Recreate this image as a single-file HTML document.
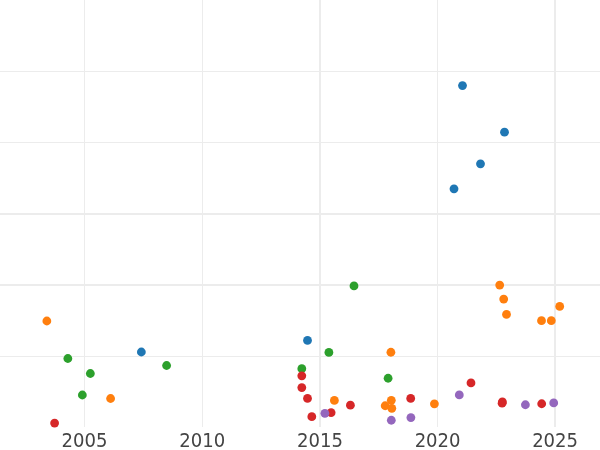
<!DOCTYPE html>
<html><head><meta charset="utf-8"><title>chart</title>
<style>
html,body{margin:0;padding:0;background:#fff;}
body{width:600px;height:450px;overflow:hidden;}
svg{display:block;}
.t{font-family:"DejaVu Sans","Liberation Sans",sans-serif;font-size:18.06px;fill:#444;text-anchor:middle;}
.g{fill:#ececec;shape-rendering:crispEdges;}
</style></head><body>
<svg width="600" height="450" viewBox="0 0 600 450">
<rect width="600" height="450" fill="#fff"/>
<rect class="g" x="84" y="0" width="1" height="427"/>
<rect class="g" x="202" y="0" width="1" height="427"/>
<rect class="g" x="319" y="0" width="2" height="427"/>
<rect class="g" x="437" y="0" width="1" height="427"/>
<rect class="g" x="554" y="0" width="2" height="427"/>
<rect class="g" x="0" y="71" width="600" height="1"/>
<rect class="g" x="0" y="142" width="600" height="1"/>
<rect class="g" x="0" y="213" width="600" height="2"/>
<rect class="g" x="0" y="284" width="600" height="2"/>
<rect class="g" x="0" y="356" width="600" height="1"/>
<g fill="#1f77b4">
<circle cx="141.35" cy="352.00" r="4.4"/>
<circle cx="307.50" cy="340.45" r="4.4"/>
<circle cx="462.50" cy="85.55" r="4.4"/>
<circle cx="504.50" cy="132.15" r="4.4"/>
<circle cx="480.50" cy="163.85" r="4.4"/>
<circle cx="454.00" cy="188.85" r="4.4"/>
</g>
<g fill="#ff7f0e">
<circle cx="46.85" cy="321.00" r="4.4"/>
<circle cx="110.60" cy="398.50" r="4.4"/>
<circle cx="334.40" cy="400.45" r="4.4"/>
<circle cx="390.90" cy="352.25" r="4.4"/>
<circle cx="391.30" cy="400.35" r="4.4"/>
<circle cx="385.20" cy="405.75" r="4.4"/>
<circle cx="391.80" cy="408.35" r="4.4"/>
<circle cx="434.40" cy="403.85" r="4.4"/>
<circle cx="499.70" cy="285.05" r="4.4"/>
<circle cx="503.70" cy="299.05" r="4.4"/>
<circle cx="506.50" cy="314.45" r="4.4"/>
<circle cx="541.50" cy="320.65" r="4.4"/>
<circle cx="551.30" cy="320.65" r="4.4"/>
<circle cx="559.70" cy="306.45" r="4.4"/>
</g>
<g fill="#2ca02c">
<circle cx="67.85" cy="358.50" r="4.4"/>
<circle cx="90.35" cy="373.50" r="4.4"/>
<circle cx="82.35" cy="395.00" r="4.4"/>
<circle cx="166.60" cy="365.50" r="4.4"/>
<circle cx="301.80" cy="368.65" r="4.4"/>
<circle cx="328.90" cy="352.45" r="4.4"/>
<circle cx="354.00" cy="285.95" r="4.4"/>
<circle cx="388.10" cy="378.25" r="4.4"/>
</g>
<g fill="#d62728">
<circle cx="54.60" cy="423.05" r="4.4"/>
<circle cx="301.80" cy="375.85" r="4.4"/>
<circle cx="301.80" cy="387.55" r="4.4"/>
<circle cx="307.50" cy="398.45" r="4.4"/>
<circle cx="311.80" cy="416.65" r="4.4"/>
<circle cx="331.10" cy="412.65" r="4.4"/>
<circle cx="350.40" cy="405.15" r="4.4"/>
<circle cx="410.70" cy="398.45" r="4.4"/>
<circle cx="471.00" cy="382.95" r="4.4"/>
<circle cx="502.40" cy="401.95" r="4.4"/>
<circle cx="502.10" cy="403.15" r="4.4"/>
<circle cx="541.70" cy="403.75" r="4.4"/>
</g>
<g fill="#9467bd">
<circle cx="324.90" cy="413.35" r="4.4"/>
<circle cx="391.30" cy="420.25" r="4.4"/>
<circle cx="410.90" cy="417.55" r="4.4"/>
<circle cx="459.30" cy="394.95" r="4.4"/>
<circle cx="525.40" cy="404.75" r="4.4"/>
<circle cx="553.70" cy="402.95" r="4.4"/>
</g>
<text class="t" transform="translate(84.5,447.4) scale(1,1.035)">2005</text>
<text class="t" transform="translate(202.2,447.4) scale(1,1.035)">2010</text>
<text class="t" transform="translate(320.0,447.4) scale(1,1.035)">2015</text>
<text class="t" transform="translate(437.6,447.4) scale(1,1.035)">2020</text>
<text class="t" transform="translate(555.1,447.4) scale(1,1.035)">2025</text>
</svg>
</body></html>
